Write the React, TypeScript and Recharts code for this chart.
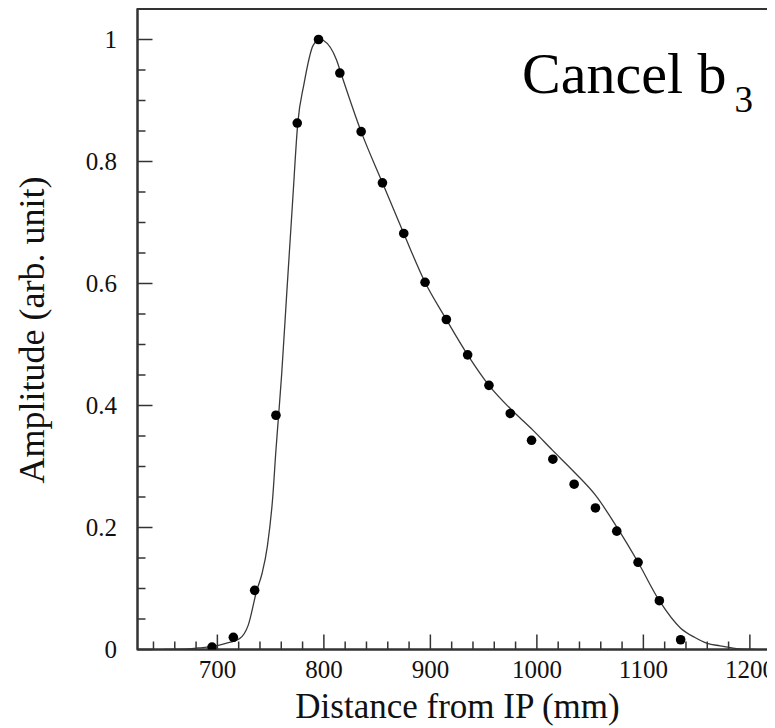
import React from 'react';
import { ComposedChart, Line, Scatter, XAxis, YAxis, ReferenceArea } from 'recharts';

// Smooth simulated curve (distance mm, amplitude)
const curveX = [650, 670, 682, 696, 708, 721, 729, 737, 742, 747, 752, 755, 757.5, 760.4, 765.1, 770.7, 775.5, 781.3, 789.8, 796, 800, 812, 816, 835, 855, 875, 895, 915, 935, 955, 975, 984, 996, 1015, 1035, 1055, 1075, 1095, 1115, 1135, 1148, 1160, 1172, 1190, 1205];
const curveY = [0, 0.0005, 0.0025, 0.005, 0.01, 0.018, 0.04, 0.097, 0.125, 0.17, 0.25, 0.327, 0.384, 0.452, 0.583, 0.736, 0.863, 0.927, 0.99, 1.0, 0.998, 0.966, 0.945, 0.849, 0.765, 0.682, 0.602, 0.541, 0.483, 0.433, 0.395, 0.38, 0.36, 0.326, 0.291, 0.253, 0.201, 0.143, 0.08, 0.035, 0.02, 0.01, 0.006, 0.001, 0];

// Measured points
const dotX = [695, 715, 735, 755, 775, 795, 815, 835, 855, 875, 895, 915, 935, 955, 975, 995, 1015, 1035, 1055, 1075, 1095, 1115, 1135];
const dotY = [0.004, 0.02, 0.097, 0.384, 0.863, 1.0, 0.945, 0.849, 0.765, 0.682, 0.602, 0.541, 0.483, 0.433, 0.387, 0.343, 0.312, 0.271, 0.232, 0.194, 0.143, 0.08, 0.016];

const xTicks = [640, 660, 680, 700, 720, 740, 760, 780, 800, 820, 840, 860, 880, 900, 920, 940, 960, 980, 1000, 1020, 1040, 1060, 1080, 1100, 1120, 1140, 1160, 1180, 1200, 1220];
const xMajor = [700, 800, 900, 1000, 1100, 1200];
const yTicks = [0, 0.05, 0.1, 0.15, 0.2, 0.25, 0.3, 0.35, 0.4, 0.45, 0.5, 0.55, 0.6, 0.65, 0.7, 0.75, 0.8, 0.85, 0.9, 0.95, 1];
const yMajor = [0, 0.2, 0.4, 0.6, 0.8, 1];
const yMajorLabels = ['0', '0.2', '0.4', '0.6', '0.8', '1'];

const curveData = curveX.map((x, i) => ({ x, y: curveY[i] }));
const dotData = dotX.map((x, i) => ({ x, y: dotY[i] }));

const FONT = '"Liberation Serif", "Times New Roman", serif';
const AXIS = '#333';

const XTick = (props: any) => {
  const { x, y, payload } = props;
  const v = payload.value;
  const major = xMajor.includes(v);
  return (
    <g>
      <line x1={x} x2={x} y1={y} y2={y - (major ? 15 : 8)} stroke={AXIS} strokeWidth={1.5} />
      {major && (
        <text x={x} y={y + 28} textAnchor="middle" fontFamily={FONT} fontSize={25} fill="#111">
          {v}
        </text>
      )}
    </g>
  );
};

const YTick = (props: any) => {
  const { x, y, payload } = props;
  const v = payload.value;
  const idx = yMajor.findIndex((m) => Math.abs(m - v) < 1e-6);
  const major = idx >= 0;
  return (
    <g>
      <line x1={x} x2={x + (major ? 15 : 8)} y1={y} y2={y} stroke={AXIS} strokeWidth={1.5} />
      {major && (
        <text x={x - 20.5} y={y} dy="0.35em" textAnchor="end" fontFamily={FONT} fontSize={25} fill="#111">
          {yMajorLabels[idx]}
        </text>
      )}
    </g>
  );
};

const Dot = (p: any) => <circle cx={p.cx} cy={p.cy} r={4.8} fill="#000" />;

export default function App() {
  return (
    <div style={{ width: 767, height: 720, overflow: 'hidden', position: 'relative' }}>
      <ComposedChart width={780} height={720} margin={{ top: 1, right: 11.5, bottom: 0, left: 0 }}>
        <XAxis
          dataKey="x"
          type="number"
          domain={[625, 1225]}
          ticks={xTicks}
          interval={0}
          tick={<XTick />}
          tickLine={false}
          tickSize={0}
          tickMargin={0}
          axisLine={{ stroke: AXIS, strokeWidth: 2 }}
          height={78.5}
          allowDataOverflow
        />
        <YAxis
          type="number"
          domain={[0, 1.05]}
          ticks={yTicks}
          interval={0}
          tick={<YTick />}
          tickLine={false}
          tickSize={0}
          tickMargin={0}
          axisLine={{ stroke: AXIS, strokeWidth: 2 }}
          width={129.5}
          allowDataOverflow
        />
        <ReferenceArea x1={625} x2={1225} y1={0} y2={1.05} fill="none" fillOpacity={0} stroke={AXIS} strokeWidth={2} ifOverflow="visible" />
        <Line data={curveData} dataKey="y" type="monotone" stroke="#3a3a3a" strokeWidth={1.3} dot={false} isAnimationActive={false} />
        <Scatter data={dotData} dataKey="y" fill="#000" shape={<Dot />} isAnimationActive={false} />
      </ComposedChart>
      <svg width={767} height={720} style={{ position: 'absolute', left: 0, top: 0, pointerEvents: 'none' }}>
        <text x={449.5} y={710} textAnchor="middle" fontFamily={FONT} fontSize={35} fill="#111">
          Distance from IP (mm)
        </text>
        <text
          x={23}
          y={322}
          textAnchor="middle"
          dy="0.35em"
          transform="rotate(-90, 23, 322)"
          fontFamily={FONT}
          fontSize={36}
          fill="#111"
        >
          Amplitude (arb. unit)
        </text>
        <text x={514} y={85} fontFamily={FONT} fontSize={58} fill="#000">
          Cancel b
          <tspan fontSize={37} dx={8} dy={19}>3</tspan>
        </text>
      </svg>
    </div>
  );
}
